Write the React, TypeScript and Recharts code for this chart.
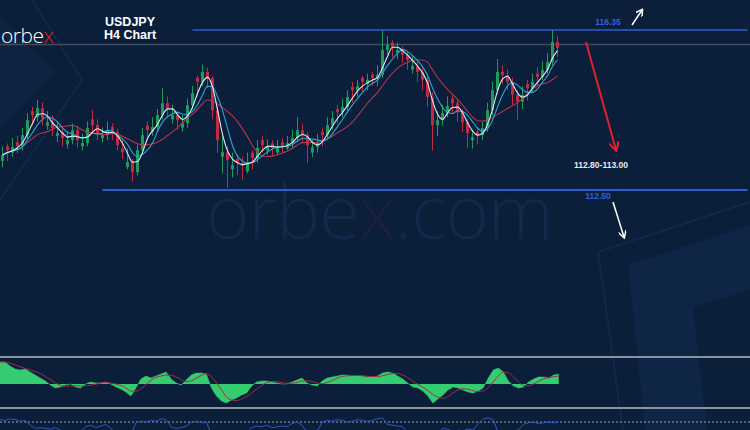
import { Area, Bar, ComposedChart, Line, ReferenceLine, XAxis, YAxis } from 'recharts';

// USDJPY H4 candles (prices)
const opens = [
  113.2, 113.55, 113.4, 113.65, 113.56, 113.82, 114.4, 114.25, 114.47, 114.05,
  114.13, 113.8, 113.9, 113.6, 113.7, 113.94, 113.55, 113.63, 114.2, 114.06,
  113.75, 113.82, 114.02, 113.89, 113.5, 113.05, 113.17, 112.93, 113.46, 114.05,
  113.9, 114.01, 114.3, 114.59, 114.2, 114.3, 114.0, 114.11, 114.54, 115.2,
  115.1, 115.34, 115.19, 114.42, 113.3, 113.41, 113.0, 113.25, 113.15, 112.95,
  113.4, 113.27, 113.7, 113.45, 113.62, 113.4, 113.65, 113.5, 113.63, 113.75,
  113.94, 113.82, 113.4, 113.53, 113.9, 113.82, 114.06, 114.45, 114.37, 114.5,
  114.98, 114.9, 115.2, 115.05, 115.28, 115.19, 115.27, 115.87, 116.05, 115.8,
  115.87, 115.75, 115.4, 115.48, 115.34, 115.15, 114.74, 114.06, 114.18, 114.35,
  114.7, 114.59, 114.37, 114.13, 113.7, 113.9, 113.82, 113.99, 114.42, 114.9,
  115.34, 115.27, 115.1, 114.79, 114.62, 115.05, 114.95, 115.3, 115.22, 115.39,
  115.58, 116.06,
];
const closes = [
  113.34, 113.46, 113.53, 113.56, 113.82, 114.18, 114.3, 114.47, 114.23, 114.13,
  113.99, 113.87, 113.75, 113.7, 113.94, 113.7, 113.63, 113.99, 114.06, 113.87,
  113.82, 113.94, 113.89, 113.58, 113.41, 113.17, 112.93, 113.46, 113.82, 113.94,
  114.01, 114.3, 114.59, 114.47, 114.3, 114.18, 114.11, 114.54, 114.83, 115.1,
  115.34, 115.19, 114.42, 113.7, 113.41, 113.22, 113.1, 113.15, 113.08, 113.17,
  113.27, 113.51, 113.58, 113.56, 113.51, 113.53, 113.56, 113.63, 113.75, 113.94,
  113.82, 113.58, 113.53, 113.65, 113.82, 114.06, 114.23, 114.37, 114.5, 114.74,
  114.9, 115.0, 115.1, 115.15, 115.19, 115.27, 115.87, 115.99, 115.94, 115.87,
  115.75, 115.63, 115.48, 115.34, 115.15, 114.74, 114.06, 114.18, 114.35, 114.52,
  114.59, 114.37, 114.13, 113.87, 113.77, 113.82, 113.99, 114.42, 114.9, 115.34,
  115.27, 115.1, 114.79, 114.62, 114.79, 114.95, 115.1, 115.22, 115.39, 115.58,
  116.06, 115.92,
];
const highs = [
  113.55, 113.62, 113.75, 113.8, 114.0, 114.35, 114.5, 114.67, 114.6, 114.4,
  114.3, 114.15, 114.0, 113.9, 114.1, 114.05, 113.85, 114.15, 114.42, 114.2,
  114.0, 114.15, 114.1, 113.98, 113.7, 113.5, 113.25, 113.6, 114.0, 114.15,
  114.25, 114.45, 114.95, 114.75, 114.55, 114.4, 114.3, 114.7, 115.0, 115.25,
  115.52, 115.45, 115.25, 114.5, 113.8, 113.55, 113.4, 113.35, 113.3, 113.4,
  113.45, 113.7, 113.8, 113.72, 113.7, 113.7, 113.75, 113.8, 113.95, 114.26,
  114.1, 113.9, 113.7, 113.85, 114.0, 114.25, 114.4, 114.55, 114.7, 114.9,
  115.1, 115.15, 115.25, 115.3, 115.35, 115.5, 116.35, 116.2, 116.1, 116.05,
  115.95, 115.85, 115.75, 115.6, 115.45, 115.25, 114.85, 114.4, 114.55, 114.75,
  114.78, 114.7, 114.45, 114.2, 113.95, 114.0, 114.15, 114.6, 115.1, 115.65,
  115.5, 115.4, 115.2, 114.9, 115.0, 115.15, 115.3, 115.45, 115.6, 115.8,
  116.35, 116.2,
];
const lows = [
  113.05, 113.2, 113.3, 113.38, 113.45, 113.7, 114.05, 114.15, 114.05, 113.95,
  113.8, 113.65, 113.55, 113.5, 113.6, 113.52, 113.45, 113.55, 113.85, 113.7,
  113.65, 113.7, 113.7, 113.45, 113.25, 113.0, 112.7, 112.85, 113.35, 113.7,
  113.8, 113.9, 114.2, 114.25, 114.1, 113.95, 113.9, 114.0, 114.45, 114.75,
  115.0, 114.95, 114.2, 113.4, 112.9, 112.55, 112.8, 112.85, 112.75, 112.9,
  113.0, 113.15, 113.4, 113.35, 113.3, 113.35, 113.4, 113.45, 113.5, 113.65,
  113.65, 113.15, 113.3, 113.4, 113.55, 113.75, 113.95, 114.1, 114.25, 114.4,
  114.6, 114.75, 114.85, 114.9, 115.0, 115.0, 115.2, 115.75, 115.7, 115.65,
  115.55, 115.4, 115.3, 115.1, 114.9, 114.5, 113.45, 113.8, 114.05, 114.25,
  114.35, 114.15, 113.9, 113.5, 113.5, 113.6, 113.7, 113.9, 114.3, 114.8,
  115.05, 114.9, 114.55, 114.18, 114.45, 114.65, 114.85, 115.0, 115.15, 115.3,
  115.5, 115.7,
];

// oscillator histogram (green area) and lower RSI-style line
const osc = [
  0.22, 0.22, 0.18, 0.15, 0.14, 0.15, 0.12, 0.09, 0.06, 0.03,
  -0.01, -0.04, -0.03, -0.01, 0.0, -0.03, -0.04, 0.0, 0.02, 0.01,
  0.01, 0.02, 0.0, -0.03, -0.05, -0.08, -0.12, -0.04, 0.05, 0.08,
  0.06, 0.08, 0.1, 0.12, 0.05, 0.01, -0.01, 0.04, 0.09, 0.11,
  0.11, 0.1, -0.04, -0.12, -0.17, -0.19, -0.16, -0.14, -0.11, -0.09,
  -0.02, 0.02, 0.03, 0.03, 0.02, 0.01, 0.0, 0.0, 0.02, 0.04,
  0.06, 0.01, -0.01, -0.02, 0.03, 0.06, 0.07, 0.08, 0.09, 0.09,
  0.08, 0.08, 0.08, 0.07, 0.07, 0.08, 0.11, 0.12, 0.11, 0.08,
  0.05, 0.01, -0.03, -0.04, -0.07, -0.12, -0.19, -0.15, -0.11, -0.06,
  -0.03, -0.04, -0.06, -0.08, -0.09, -0.07, -0.04, 0.06, 0.14, 0.16,
  0.12, 0.03, -0.02, -0.04, -0.03, 0.02, 0.05, 0.07, 0.07, 0.06,
  0.09, 0.1,
];
const rsi = [
  73, 72, 74, 73, 71, 72, 66, 62, 63, 62,
  61, 63, 60, 56, 54, 55, 58, 64, 66, 63,
  65, 67, 62, 56, 52, 50, 54, 69, 71, 70,
  72, 71, 74, 73, 64, 62, 63, 65, 70, 71,
  69, 70, 55, 50, 48, 52, 54, 56, 53, 55,
  63, 65, 64, 66, 63, 64, 65, 64, 68, 70,
  66, 57, 55, 58, 70, 72, 71, 73, 72, 70,
  71, 73, 72, 71, 72, 74, 75, 67, 66, 65,
  64, 57, 55, 53, 54, 52, 55, 56, 62, 61,
  58, 60, 59, 61, 60, 68, 74, 75, 73, 56,
  55, 57, 58, 60, 67, 69, 70, 68, 69, 70,
  69, 70,
];

const SLOTS = 150; // right part of the chart is empty space
const BG = '#0b1e3a';

function sma(values: number[], n: number) {
  return values.map((_, i) => {
    const win = values.slice(Math.max(0, i - n + 1), i + 1);
    return win.reduce((s, v) => s + v, 0) / win.length;
  });
}

const maFast = sma(closes, 3);
const maMid = sma(closes, 5);
const maSlow = sma(closes, 10);
const signal = sma(osc, 4);

const rows = Array.from({ length: SLOTS }, (_, i) =>
  i < closes.length
    ? {
        i,
        open: opens[i],
        close: closes[i],
        high: highs[i],
        low: lows[i],
        maFast: maFast[i],
        maMid: maMid[i],
        maSlow: maSlow[i],
        osc: osc[i],
        signal: signal[i],
        rsi: rsi[i],
      }
    : { i }
);

function Candle(props: any) {
  const { x, y, width, height, payload } = props;
  if (payload.high == null) return null;
  const top = Math.min(y, y + height);
  const h = Math.abs(height);
  const span = payload.high - payload.low || 1;
  const py = (v: number) => top + ((payload.high - v) / span) * h;
  const up = payload.close >= payload.open;
  const color = up ? '#1f9c5b' : '#c22a41';
  const cx = x + width / 2;
  const bTop = py(Math.max(payload.open, payload.close));
  const bBot = py(Math.min(payload.open, payload.close));
  return (
    <g>
      <line x1={cx} x2={cx} y1={top} y2={top + h} stroke={color} strokeWidth={1} />
      <rect x={x} y={bTop} width={width} height={Math.max(1, bBot - bTop)} fill={color} />
    </g>
  );
}

const levelLabel = (text: string, x: number) => (p: any) => (
  <text x={x} y={p.viewBox.y - 5} fill="#2f62e0" fontSize={8.5} fontWeight={700} textAnchor="middle">
    {text}
  </text>
);

export default function App() {
  return (
    <div
      style={{
        position: 'fixed',
        left: 0,
        top: 0,
        width: 750,
        height: 430,
        overflow: 'hidden',
        background: BG,
        fontFamily: '"Liberation Sans", Arial, sans-serif',
      }}
    >
      {/* faint brand shapes behind the chart */}
      <svg width={750} height={430} style={{ position: 'absolute', left: 0, top: 0 }}>
        <polygon points="0,18 55,72 0,128" fill="#0e2341" />
        <polyline points="32,0 82,80 0,200" fill="none" stroke="#12284a" strokeWidth={2} />
        <polygon points="628,265 750,225 750,430 645,430" fill="#0f2546" />
        <polygon points="693,307 750,290 750,430 707,430" fill={BG} />
        <polyline points="623,430 598,252 750,202" fill="none" stroke="#12284a" strokeWidth={2} />
        <text x={206} y={239} fontSize={74} fontWeight={300} fill="#13284a" fontFamily='"Open Sans", sans-serif' letterSpacing={-1}>
          orbe<tspan fill="#1a1f3d">x</tspan>.com
        </text>
        <line x1={0} x2={750} y1={44.5} y2={44.5} stroke="#414d5e" strokeWidth={1.5} />
      </svg>

      <div style={{ position: 'absolute', left: 0, top: 0 }}>
        <ComposedChart width={750} height={350} data={rows} margin={{ top: 0, right: 0, bottom: 0, left: 0 }}>
          <XAxis dataKey="i" hide />
          <YAxis hide domain={[108.65, 117.072]} />
          <ReferenceLine
            segment={[{ x: 38, y: 116.35 }, { x: 149, y: 116.35 }]}
            stroke="#2b5fd0"
            strokeWidth={1.5}
            label={levelLabel('116.35', 608)}
          />
          <ReferenceLine
            segment={[{ x: 20, y: 112.5 }, { x: 149, y: 112.5 }]}
            stroke="#2b5fd0"
            strokeWidth={2}
          />
          <Bar dataKey={(d: any) => (d.high == null ? null : [d.low, d.high])} barSize={3} shape={Candle} isAnimationActive={false} />
          <Line dataKey="maSlow" stroke="#b8344c" strokeWidth={1.1} dot={false} activeDot={false} type="monotone" isAnimationActive={false} />
          <Line dataKey="maMid" stroke="#2aa6d6" strokeWidth={1.1} dot={false} activeDot={false} type="monotone" isAnimationActive={false} />
          <Line dataKey="maFast" stroke="#dfe8f2" strokeWidth={1.1} dot={false} activeDot={false} type="monotone" isAnimationActive={false} />
        </ComposedChart>
      </div>

      {/* oscillator panel */}
      <div style={{ position: 'absolute', left: 0, top: 350 }}>
        <ComposedChart width={750} height={65} data={rows} margin={{ top: 7, right: 0, bottom: 7, left: 0 }}>
          <XAxis dataKey="i" hide />
          <YAxis hide domain={[-0.24, 0.27]} />
          <ReferenceLine y={0.27} stroke="#8d939d" strokeWidth={2} />
          <ReferenceLine y={-0.24} stroke="#8d939d" strokeWidth={2} />
          <Area dataKey="osc" baseValue={0} type="linear" fill="#33cc70" fillOpacity={1} stroke="#33cc70" strokeWidth={0.5} activeDot={false} isAnimationActive={false} />
          <Line dataKey="signal" stroke="#a82a40" strokeWidth={1} dot={false} activeDot={false} type="monotone" isAnimationActive={false} />
        </ComposedChart>
      </div>

      {/* lower indicator, mostly cut off */}
      <div style={{ position: 'absolute', left: 0, top: 414 }}>
        <ComposedChart width={750} height={40} data={rows} margin={{ top: 0, right: 0, bottom: 0, left: 0 }}>
          <XAxis dataKey="i" hide />
          <YAxis hide domain={[30, 80]} />
          <ReferenceLine y={70} stroke="#9aa3b0" strokeDasharray="2 2" />
          <Line dataKey="rsi" stroke="#2d56c0" strokeWidth={1} dot={false} activeDot={false} type="linear" isAnimationActive={false} />
        </ComposedChart>
      </div>

      {/* header, annotations */}
      <svg width={750} height={430} style={{ position: 'absolute', left: 0, top: 0, pointerEvents: 'none' }}>
        <defs>
          <marker id="hw" markerWidth="8" markerHeight="8" refX="6" refY="4" orient="auto" markerUnits="userSpaceOnUse">
            <path d="M0,0 L7,4 L0,8" fill="none" stroke="#ffffff" strokeWidth={1.5} />
          </marker>
          <marker id="hr" markerWidth="10" markerHeight="10" refX="8" refY="5" orient="auto" markerUnits="userSpaceOnUse">
            <path d="M0,0 L9,5 L0,10" fill="none" stroke="#e3202c" strokeWidth={2} />
          </marker>
        </defs>
        <text x={1} y={43} fontSize={21} fontWeight={300} fill="#ffffff" fontFamily='"Open Sans", sans-serif' letterSpacing={-0.5}>
          orbe<tspan fill="#e3202c">x</tspan>
        </text>
        <text x={130} y={26} fontSize={12.5} fontWeight={700} fill="#ffffff" textAnchor="middle">USDJPY</text>
        <text x={130} y={39} fontSize={12.5} fontWeight={700} fill="#ffffff" textAnchor="middle">H4 Chart</text>
        <line x1={632} y1={25} x2={642} y2={10} stroke="#ffffff" strokeWidth={1.5} markerEnd="url(#hw)" />
        <line x1={586} y1={42} x2={616} y2={150} stroke="#e3202c" strokeWidth={2} markerEnd="url(#hr)" />
        <text x={601} y={168} fontSize={8.5} fontWeight={700} fill="#e8edf3" textAnchor="middle">112.80-113.00</text>
        <text x={598} y={199} fontSize={8.5} fontWeight={700} fill="#2f62e0" textAnchor="middle">112.50</text>
        <line x1={613} y1={202} x2={624} y2={237} stroke="#ffffff" strokeWidth={1.5} markerEnd="url(#hw)" />
      </svg>
    </div>
  );
}
